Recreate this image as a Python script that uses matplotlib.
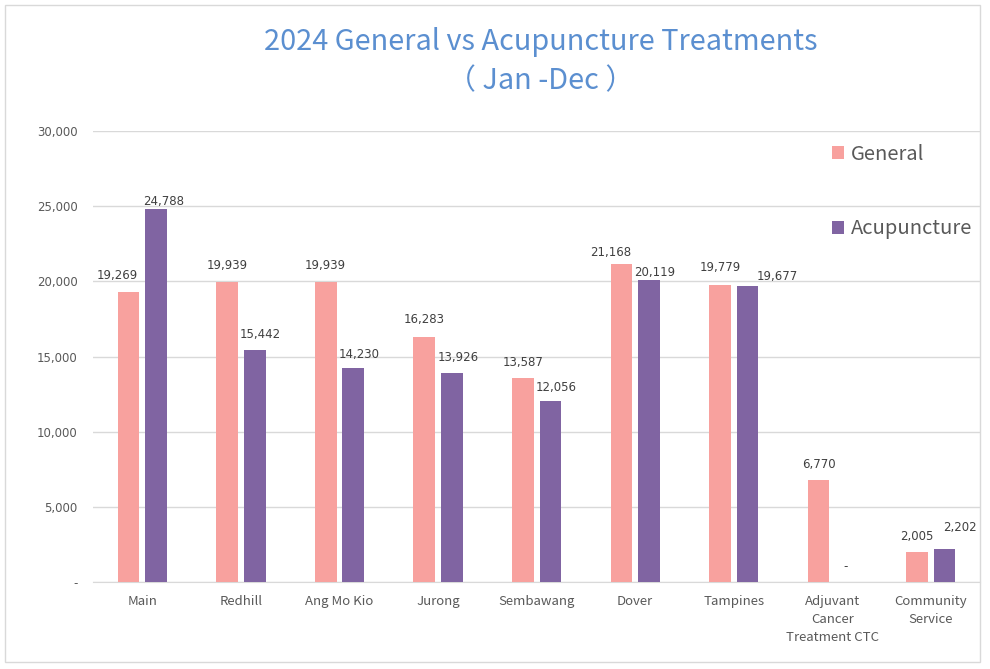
import matplotlib.pyplot as plt
import numpy as np
from matplotlib.patches import Rectangle

plt.rcParams['font.family'] = ['Noto Sans CJK SC', 'DejaVu Sans']

categories = ["Main", "Redhill", "Ang Mo Kio", "Jurong", "Sembawang", "Dover",
              "Tampines", "Adjuvant\nCancer\nTreatment CTC", "Community\nService"]
general = [19269, 19939, 19939, 16283, 13587, 21168, 19779, 6770, 2005]
acupuncture = [24788, 15442, 14230, 13926, 12056, 20119, 19677, 0, 2202]
yticks = [0, 5000, 10000, 15000, 20000, 25000, 30000]

# label nudges (pixels) to mimic the spreadsheet's label placement
gen_dx = [-11, 0, 0, 0, 0, -11, 0, 0, 0]
gen_gap = [10, 10, 10, 11, 9, 5, 11, 9, 9]
acu_dx = [7, 6, 6, 6, 6, 6, 30, 0, 15]
acu_gap = [1, 9, 7, 9, 7, 1, 3, 9, 15]

c_gen = "#F8A19E"
c_acu = "#8064A2"
num_font = "DejaVu Sans"

def fmt(v):
    return "-" if v == 0 else f"{v:,}"

fig = plt.figure(figsize=(9.9, 6.69), dpi=100)
ax = fig.add_axes([0.094, 0.130, 0.896, 0.674])

x = np.arange(len(categories))
w = 0.22
b1 = ax.bar(x - 0.14, general, w, color=c_gen, label="General", zorder=3)
b2 = ax.bar(x + 0.14, acupuncture, w, color=c_acu, label="Acupuncture", zorder=3)

px = 72 / 100
for bars, vals, dxs, gaps in [(b1, general, gen_dx, gen_gap), (b2, acupuncture, acu_dx, acu_gap)]:
    for r, v, dx, gap in zip(bars, vals, dxs, gaps):
        ax.annotate(fmt(v), (r.get_x() + r.get_width() / 2, v),
                    xytext=(dx * px, gap * px), textcoords="offset points",
                    ha="center", va="bottom", fontsize=8.5, color="#404040",
                    fontfamily=num_font)

ax.set_xlim(-0.5, len(categories) - 0.5)
ax.set_ylim(0, 30000)
ax.set_yticks(yticks)
ax.set_yticklabels([fmt(v) for v in yticks], fontsize=8.5, color="#595959",
                   fontfamily=num_font)
ax.set_xticks(x)
ax.set_xticklabels(categories, fontsize=9.5, color="#595959", linespacing=1.5)
ax.tick_params(axis="both", length=0)
ax.tick_params(axis="y", pad=11)
ax.tick_params(axis="x", pad=9)
ax.grid(axis="y", color="#D9D9D9", linewidth=1, zorder=0)
for s in ["top", "right", "left"]:
    ax.spines[s].set_visible(False)
ax.spines["bottom"].set_color("#D9D9D9")

fig.text(0.546, 0.937, "2024 General vs Acupuncture Treatments", ha="center",
         va="center", fontsize=20.8, color="#5B8FD0")
fig.text(0.546, 0.878, "（ Jan -Dec ）", ha="center", va="center",
         fontsize=20.8, color="#5B8FD0")

ax.legend(loc="upper left", bbox_to_anchor=(0.813, 1.012), frameon=False,
          fontsize=14.5, labelcolor="#595959", labelspacing=2.65,
          handlelength=0.6, handleheight=0.6, handletextpad=0.3)

fig.patches.append(Rectangle((0.005, 0.01), 0.985, 0.983, transform=fig.transFigure,
                             fill=False, edgecolor="#D9D9D9", linewidth=1))

fig.savefig("out.png", dpi=100)
